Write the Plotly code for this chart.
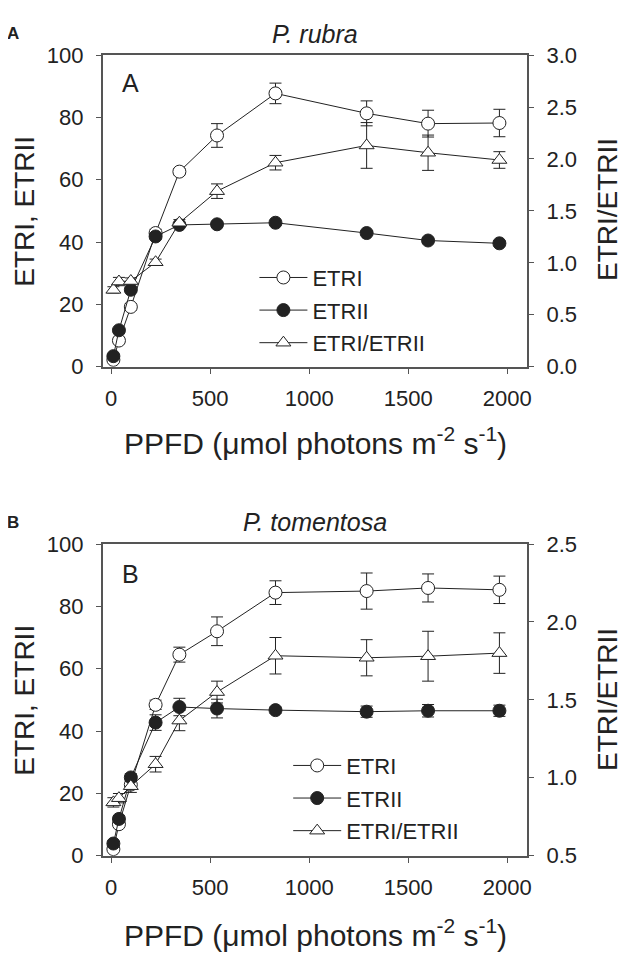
import plotly.graph_objects as go

# PPFD levels (umol photons m-2 s-1)
ppfd = [12, 40, 100, 225, 345, 535, 830, 1290, 1600, 1960]

# panel A - P. rubra
etr1_a = [2.2, 8.4, 19.2, 42.9, 62.6, 74.2, 87.7, 81.3, 78.0, 78.2]
etr1_a_err = [0.6, 0.8, 1.0, 1.2, 1.0, 3.8, 3.3, 4.0, 4.3, 4.4]
etr2_a = [3.4, 11.7, 24.7, 41.8, 45.5, 45.7, 46.2, 42.9, 40.5, 39.6]
etr2_a_err = [0.5, 0.6, 0.8, 0.8, 0.8, 0.8, 0.8, 0.8, 0.8, 0.8]
ratio_a = [0.74, 0.82, 0.825, 1.006, 1.386, 1.69, 1.964, 2.13, 2.06, 1.99]
ratio_a_err = [0.03, 0.04, 0.03, 0.03, 0.03, 0.07, 0.07, 0.22, 0.17, 0.08]

# panel B - P. tomentosa
etr1_b = [2.1, 10.1, 22.8, 48.4, 64.5, 72.0, 84.4, 84.9, 85.9, 85.3]
etr1_b_err = [0.5, 0.8, 1.5, 1.5, 2.4, 4.6, 3.8, 5.8, 4.5, 4.4]
etr2_b = [3.9, 11.8, 25.1, 42.7, 47.7, 47.2, 46.7, 46.2, 46.5, 46.5]
etr2_b_err = [0.8, 1.0, 1.2, 2.5, 2.8, 3.0, 1.0, 1.8, 2.0, 1.8]
ratio_b = [0.842, 0.869, 0.946, 1.087, 1.367, 1.55, 1.783, 1.77, 1.78, 1.80]
ratio_b_err = [0.03, 0.03, 0.04, 0.05, 0.065, 0.07, 0.117, 0.116, 0.16, 0.13]

# page body has an 8px margin, so the figure is shrunk by it and
# every reference pixel position is shifted back by OFF
OFF = 8
W, H = 631 - OFF, 969 - OFF
FONT = "Liberation Sans, Arial, sans-serif"
AX = "#555555"
LN = "#222222"


def px(v):
    return (v - OFF) / W


def py(v):
    return 1 - (v - OFF) / H


def series(x, y, err, name, symbol, fill, xa, ya, legend):
    return go.Scatter(
        x=x, y=y, name=name, mode="lines+markers",
        xaxis=xa, yaxis=ya, legend=legend, legendgroup=legend + name,
        line=dict(color=LN, width=1),
        marker=dict(symbol=symbol, size=13, color=fill,
                    line=dict(color=LN, width=1)),
        error_y=dict(type="data", array=err, color=LN, thickness=1, width=6),
    )


fig = go.Figure()
fig.add_trace(series(ppfd, etr1_a, etr1_a_err, "ETRI", "circle", "white", "x", "y", "legend"))
fig.add_trace(series(ppfd, etr2_a, etr2_a_err, "ETRII", "circle", LN, "x", "y", "legend"))
fig.add_trace(series(ppfd, ratio_a, ratio_a_err, "ETRI/ETRII", "triangle-up", "white", "x", "y2", "legend"))
fig.add_trace(series(ppfd, etr1_b, etr1_b_err, "ETRI", "circle", "white", "x2", "y3", "legend2"))
fig.add_trace(series(ppfd, etr2_b, etr2_b_err, "ETRII", "circle", LN, "x2", "y3", "legend2"))
fig.add_trace(series(ppfd, ratio_b, ratio_b_err, "ETRI/ETRII", "triangle-up", "white", "x2", "y4", "legend2"))

dom_x = [px(103.3), px(530.7)]
dom_a = [py(364), py(44)]
dom_b = [py(866), py(546)]
tickfont = dict(family=FONT, size=22, color="#222")

xcommon = dict(range=[-42, 2101], tickvals=[0, 500, 1000, 1500, 2000],
               showline=True, linecolor=AX, linewidth=1.5, mirror=True,
               ticks="outside", ticklen=6, tickcolor=AX, ticklabelstandoff=5,
               showgrid=False, zeroline=False, tickfont=tickfont, domain=dom_x)
ycommon = dict(showline=True, linecolor=AX, linewidth=1.5,
               ticks="outside", ticklen=5, tickcolor=AX, ticklabelstandoff=8,
               showgrid=False, zeroline=False, tickfont=tickfont)
legfont = dict(family=FONT, size=22, color="#222")

fig.update_layout(
    width=W, height=H,
    margin=dict(l=0, r=0, t=0, b=0),
    paper_bgcolor="white", plot_bgcolor="white",
    font=dict(family=FONT, color="#222"),
    xaxis=dict(anchor="y", **xcommon),
    yaxis=dict(anchor="x", domain=dom_a, range=[0, 100], dtick=20, **ycommon),
    yaxis2=dict(anchor="x", overlaying="y", side="right", range=[0, 3], dtick=0.5,
                tickformat=".1f", **ycommon),
    xaxis2=dict(anchor="y3", **xcommon),
    yaxis3=dict(anchor="x2", domain=dom_b, range=[0, 100], dtick=20, **ycommon),
    yaxis4=dict(anchor="x2", overlaying="y3", side="right", range=[0.5, 2.5], dtick=0.5,
                tickformat=".1f", **ycommon),
    legend=dict(x=px(256), y=py(251), xanchor="left", yanchor="top",
                bgcolor="rgba(0,0,0,0)", tracegroupgap=1, itemwidth=48,
                font=legfont),
    legend2=dict(x=px(290), y=py(752), xanchor="left", yanchor="top",
                 bgcolor="rgba(0,0,0,0)", tracegroupgap=1, itemwidth=48,
                 font=legfont),
)

xtitle = "PPFD (\u03bcmol photons m<sup>-2</sup> s<sup>-1</sup>)"
notes = [
    # panel letters, species titles, inner letters
    dict(x=5, y=22, text="<b>A</b>", size=17, xanchor="left"),
    dict(x=317, y=22, text="<i>P. rubra</i>", size=25, xanchor="center"),
    dict(x=121, y=73, text="A", size=25, xanchor="left"),
    dict(x=5, y=524, text="<b>B</b>", size=17, xanchor="left"),
    dict(x=317, y=523, text="<i>P. tomentosa</i>", size=25, xanchor="center"),
    dict(x=121, y=577, text="B", size=25, xanchor="left"),
    # axis titles
    dict(x=317, y=440, text=xtitle, size=30, xanchor="center"),
    dict(x=317, y=945, text=xtitle, size=30, xanchor="center"),
    dict(x=25, y=204, text="ETRI, ETRII", size=28, xanchor="center", angle=-90),
    dict(x=612, y=203, text="ETRI/ETRII", size=28, xanchor="center", angle=-90),
    dict(x=25, y=706, text="ETRI, ETRII", size=28, xanchor="center", angle=-90),
    dict(x=612, y=706, text="ETRI/ETRII", size=28, xanchor="center", angle=-90),
]
for n in notes:
    fig.add_annotation(
        x=px(n["x"]), y=py(n["y"]), xref="paper", yref="paper",
        text=n["text"], showarrow=False, xanchor=n["xanchor"], yanchor="middle",
        textangle=n.get("angle", 0),
        font=dict(family=FONT, size=n["size"], color="#222"),
    )

fig.write_html("out.html")
